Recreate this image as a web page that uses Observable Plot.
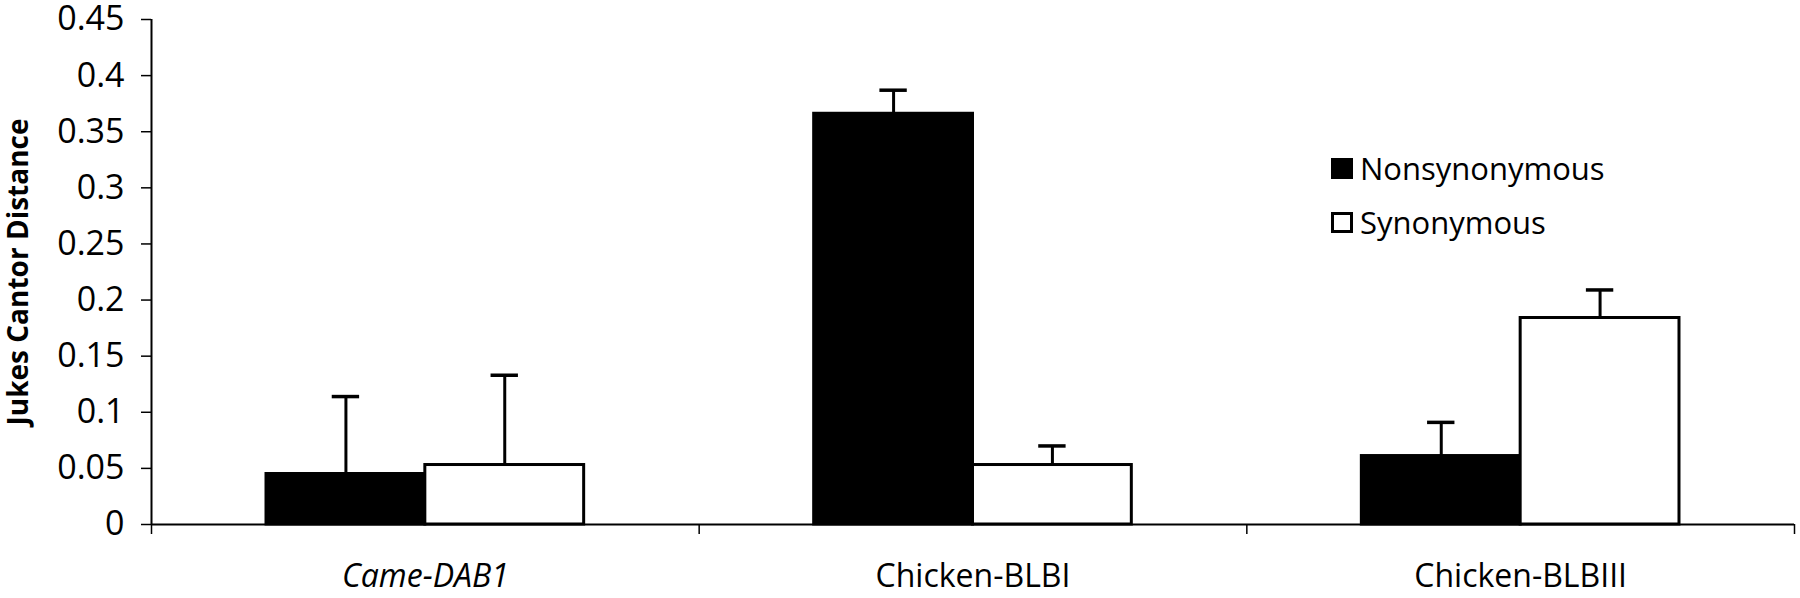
<!DOCTYPE html>
<html><head><meta charset="utf-8">
<script src="https://cdn.jsdelivr.net/npm/d3@7"></script>
<script src="https://cdn.jsdelivr.net/npm/@observablehq/plot@0.6"></script>
<style>
body{margin:0;background:#fff;}
#wrap{position:relative;width:1800px;height:598px;font-family:"Open Sans",sans-serif;}
.legend{position:absolute;left:1331px;top:141px;font-size:31px;color:#000;line-height:1;}
.item{display:flex;align-items:center;height:54px;}
.sw{width:22px;height:21px;box-sizing:border-box;border:3px solid #000;margin-right:7px;}
</style></head><body><div id="wrap"></div>
<script>
const categories = ["Came-DAB1", "Chicken-BLBI", "Chicken-BLBIII"];
const series = ["Nonsynonymous", "Synonymous"];
const nonsyn = [0.045, 0.366, 0.061];
const nonsynErr = [0.069, 0.021, 0.030];
const syn = [0.053, 0.053, 0.184];
const synErr = [0.080, 0.017, 0.025];
const yTicks = [0, 0.05, 0.1, 0.15, 0.2, 0.25, 0.3, 0.35, 0.4, 0.45];

const rows = categories.flatMap((c, i) => series.map((s, j) => ({
  c, i, s, v: (j ? syn : nonsyn)[i], e: (j ? synErr : nonsynErr)[i]
})));
const W = 0.29;
const left = d => d.i + (d.s === series[0] ? 0.21 : 0.5);
const mid = d => left(d) + W / 2;

const chart = Plot.plot({
  width: 1800, height: 598,
  marginLeft: 151, marginRight: 6, marginTop: 19, marginBottom: 74,
  style: {fontFamily: "'Open Sans', sans-serif", fontSize: "34px", color: "#000", background: "#fff", overflow: "visible"},
  x: {domain: [0, 3]},
  y: {domain: [0, 0.45]},
  color: {domain: series, range: ["#000", "#fff"]},
  marks: [
    Plot.rectY(rows, {x1: left, x2: d => left(d) + W, y1: 0, y2: "v", fill: "s", stroke: "#000", strokeWidth: 3}),
    Plot.ruleX(rows, {x: mid, y1: "v", y2: d => d.v + d.e, stroke: "#000", strokeWidth: 3}),
    Plot.ruleY(rows, {y: d => d.v + d.e, x1: d => mid(d) - 0.025, x2: d => mid(d) + 0.025, stroke: "#000", strokeWidth: 3.5}),
    Plot.ruleY([0], {stroke: "#000", strokeWidth: 2}),
    Plot.ruleX([0], {stroke: "#000", strokeWidth: 2}),
    Plot.axisY({ticks: yTicks, tickSize: 10, tickPadding: 17, strokeWidth: 1.5, fontSize: 34,
      tickFormat: d => String(+d.toFixed(2)),
      label: "Jukes Cantor Distance", labelAnchor: "center", labelArrow: "none", labelOffset: 143}),
    Plot.axisX({ticks: [0, 1, 2, 3], tickSize: 10, strokeWidth: 1.5, tickFormat: () => "", label: null}),
    Plot.axisX({ticks: [0.5, 1.5, 2.5], tickSize: 0, tickPadding: 40, fontSize: 32,
      tickFormat: d => categories[Math.floor(d)], label: null})
  ]
});

d3.select(chart).selectAll("text").each(function() {
  const t = d3.select(this);
  if (t.text() === categories[0]) t.style("font-style", "italic");
  if (t.text() === "Jukes Cantor Distance") t.style("font-weight", "bold").style("font-size", "28px");
});

const wrap = document.getElementById("wrap");
wrap.appendChild(chart);
const legend = document.createElement("div");
legend.className = "legend";
legend.innerHTML = series.map((s, j) =>
  `<div class="item"><div class="sw" style="background:${j ? "#fff" : "#000"}"></div><span>${s}</span></div>`).join("");
wrap.appendChild(legend);
</script>
</body></html>
